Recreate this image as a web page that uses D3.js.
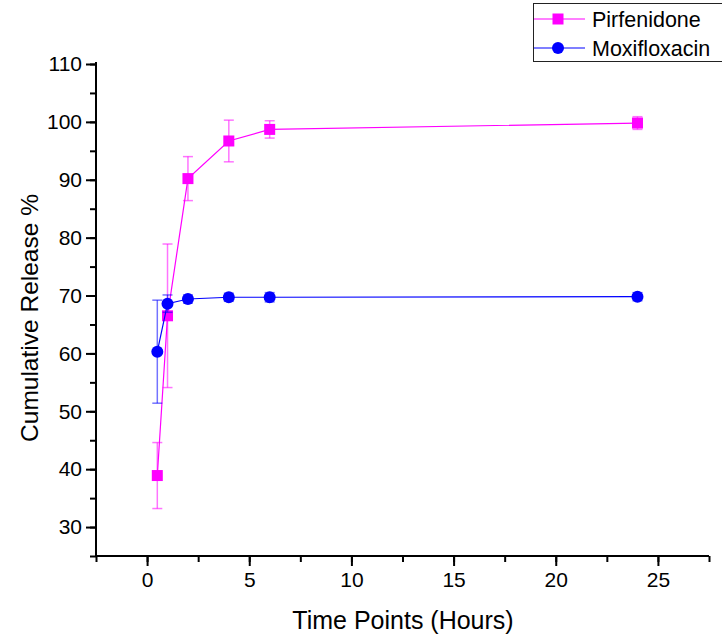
<!DOCTYPE html>
<html>
<head>
<meta charset="utf-8">
<script src="https://cdn.jsdelivr.net/npm/d3@7"></script>
<style>
  body { margin: 0; background: #fff; }
  svg { font-family: "Liberation Sans", Arial, sans-serif; }
</style>
</head>
<body>
<div id="chart"></div>
<script>
// Data
const timePoints = [0.5, 1, 2, 4, 6, 24];
const pirfenidone = [38.9, 66.5, 90.2, 96.7, 98.7, 99.8];
const pirfenidoneErr = [5.7, 12.4, 3.8, 3.6, 1.5, 1.1];
const moxifloxacin = [60.3, 68.6, 69.4, 69.7, 69.7, 69.8];
const moxifloxacinErr = [8.9, 1.5, 0.7, 0.7, 0.8, 0.7];
const xTicks = [0, 5, 10, 15, 20, 25];
const yTicks = [30, 40, 50, 60, 70, 80, 90, 100, 110];

const width = 722;
const height = 639;
const margin = {top: 64, right: 13, bottom: 83, left: 96};

const series = [
  {name: "Pirfenidone", values: pirfenidone, err: pirfenidoneErr,
    color: "#ff00ff", shape: "square"},
  {name: "Moxifloxacin", values: moxifloxacin, err: moxifloxacinErr,
    color: "#0000ff", shape: "circle"},
];

const svg = d3.select("#chart")
  .append("svg")
  .attr("width", width)
  .attr("height", height);

// Scales
const xScale = d3.scaleLinear()
  .domain([-2.5, 27.5])
  .range([margin.left, width - margin.right]);

const yScale = d3.scaleLinear()
  .domain([25, 110])
  .range([height - margin.bottom, margin.top]);

// X axis with minor ticks
const xAxisG = svg.append("g")
  .attr("transform", "translate(0," + (height - margin.bottom) + ")");

xAxisG.append("g")
  .call(d3.axisBottom(xScale).tickValues(d3.range(-2.5, 28, 2.5))
    .tickSize(6).tickFormat(""))
  .call((g) => g.select(".domain").remove())
  .selectAll("line").attr("stroke-width", 2);

xAxisG.append("g")
  .call(d3.axisBottom(xScale).tickValues(xTicks).tickSize(10).tickPadding(6))
  .call((g) => g.select(".domain")
    .attr("d", "M" + xScale.range()[0] + ",0H" + xScale.range()[1])
    .attr("stroke-width", 2))
  .call((g) => g.selectAll("line").attr("stroke-width", 2))
  .selectAll("text")
  .attr("font-size", 21)
  .attr("fill", "#000");

// Y axis with minor ticks
const yAxisG = svg.append("g")
  .attr("transform", "translate(" + margin.left + ",0)");

yAxisG.append("g")
  .call(d3.axisLeft(yScale).tickValues(d3.range(25, 111, 5))
    .tickSize(6).tickFormat(""))
  .call((g) => g.select(".domain").remove())
  .selectAll("line").attr("stroke-width", 2);

yAxisG.append("g")
  .call(d3.axisLeft(yScale).tickValues(yTicks).tickSize(10).tickPadding(4))
  .call((g) => g.select(".domain")
    .attr("d", "M0," + yScale.range()[0] + "V" + (yScale.range()[1] - 2))
    .attr("stroke-width", 2))
  .call((g) => g.selectAll("line").attr("stroke-width", 2))
  .selectAll("text")
  .attr("font-size", 21)
  .attr("fill", "#000");

// Axis titles
svg.append("text")
  .attr("x", 403)
  .attr("y", 629)
  .attr("text-anchor", "middle")
  .attr("font-size", 25)
  .text("Time Points (Hours)");

svg.append("text")
  .attr("transform", "translate(38,318) rotate(-90)")
  .attr("text-anchor", "middle")
  .attr("font-size", 24.5)
  .text("Cumulative Release %");

// Series
const capW = 5;
const line = d3.line()
  .x((d) => xScale(d[0]))
  .y((d) => yScale(d[1]));

/**
 * Draw a marker of given shape
 * @param {*} g selection
 * @param {*} s series
 */
function drawMarker(g, s) {
  if (s.shape === "square") {
    g.append("rect")
      .attr("x", -5.5).attr("y", -5.5)
      .attr("width", 11).attr("height", 11)
      .attr("fill", s.color);
  } else {
    g.append("circle")
      .attr("r", 6)
      .attr("fill", s.color);
  }
}

series.forEach(function(s) {
  const pts = timePoints.map((t, i) => [t, s.values[i], s.err[i]]);
  const g = svg.append("g");

  // Error bars
  const eb = g.selectAll(".err")
    .data(pts)
    .enter()
    .append("g")
    .attr("stroke", s.color)
    .attr("stroke-opacity", 0.55)
    .attr("stroke-width", 1.5);
  eb.append("line")
    .attr("x1", (d) => xScale(d[0])).attr("x2", (d) => xScale(d[0]))
    .attr("y1", (d) => yScale(d[1] + d[2]))
    .attr("y2", (d) => yScale(d[1] - d[2]));
  eb.append("line")
    .attr("x1", (d) => xScale(d[0]) - capW).attr("x2", (d) => xScale(d[0]) + capW)
    .attr("y1", (d) => yScale(d[1] + d[2]))
    .attr("y2", (d) => yScale(d[1] + d[2]));
  eb.append("line")
    .attr("x1", (d) => xScale(d[0]) - capW).attr("x2", (d) => xScale(d[0]) + capW)
    .attr("y1", (d) => yScale(d[1] - d[2]))
    .attr("y2", (d) => yScale(d[1] - d[2]));

  g.append("path")
    .datum(pts)
    .attr("fill", "none")
    .attr("stroke", s.color)
    .attr("stroke-width", 1.2)
    .attr("d", line);

  g.selectAll(".mk")
    .data(pts)
    .enter()
    .append("g")
    .attr("transform", (d) => "translate(" + xScale(d[0]) + "," + yScale(d[1]) + ")")
    .each(function() {
      drawMarker(d3.select(this), s);
    });
});

// Legend
const legend = svg.append("g");
legend.append("rect")
  .attr("x", 533.5).attr("y", 3.5)
  .attr("width", 200).attr("height", 58)
  .attr("fill", "#fff")
  .attr("stroke", "#222")
  .attr("stroke-width", 1);

series.forEach(function(s, i) {
  const ly = 19 + i * 29;
  legend.append("line")
    .attr("x1", 534).attr("x2", 585)
    .attr("y1", ly).attr("y2", ly)
    .attr("stroke", s.color)
    .attr("stroke-width", 1.2);
  const mk = legend.append("g")
    .attr("transform", "translate(558," + ly + ")");
  drawMarker(mk, s);
  legend.append("text")
    .attr("x", 592)
    .attr("y", ly + 8)
    .attr("font-size", 21.5)
    .text(s.name);
});
</script>
</body>
</html>
